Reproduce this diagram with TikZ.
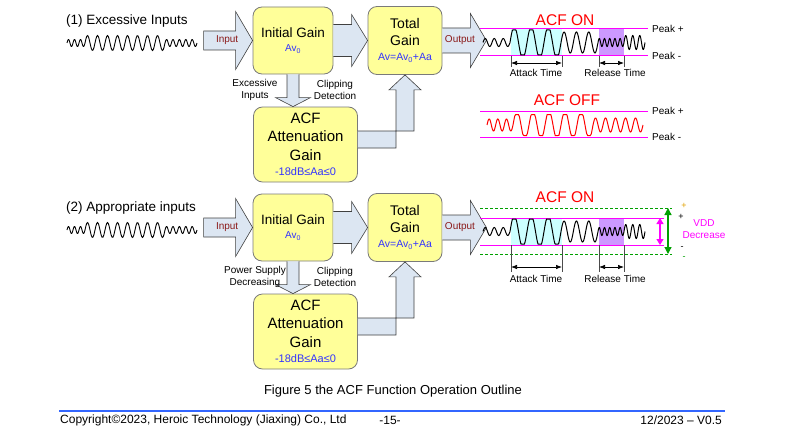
\documentclass[tikz,border=0pt]{standalone}
\usepackage{fontspec}
\setmainfont{Liberation Sans}
\usetikzlibrary{arrows.meta,positioning,calc}
\definecolor{gainfill}{HTML}{FFFF99}
\definecolor{boxline}{HTML}{7A7A7A}
\definecolor{pipefill}{HTML}{DCE6F2}
\definecolor{pipeline}{HTML}{404040}
\definecolor{acfblue}{HTML}{3333FF}
\definecolor{acfred}{HTML}{FF0000}
\definecolor{portred}{HTML}{8B1A1A}
\definecolor{peakpink}{HTML}{FF00FF}
\definecolor{attcyan}{HTML}{CCFFFF}
\definecolor{relpurple}{HTML}{CC99FF}
\definecolor{vddgreen}{HTML}{00A000}
\definecolor{vddorange}{HTML}{E0A000}
\definecolor{footblue}{HTML}{3366FF}
\tikzset{
  gainbox/.style={draw=boxline, fill=gainfill, line width=0.8pt, rounded corners=9pt, align=center},
  pipe/.style={draw=pipeline, fill=pipefill, line width=0.6pt, line join=miter},
  portlabel/.style={font=\fontsize{10}{12}\selectfont, text=portred},
  sidenote/.style={font=\fontsize{10}{12}\selectfont, align=center},
  peakline/.style={draw=peakpink, line width=1pt},
  dimline/.style={draw=black!70, line width=0.7pt},
  timespan/.style={{Latex[length=6pt,width=4.5pt]}-{Latex[length=6pt,width=4.5pt]}, line width=0.7pt},
}
% block arrow: [close] tail, tip, shaft half width, head half width, head length
\newcommand{\blockarrow}[6][]{\draw[pipe] ($(#2)+(0,#4)$) -- ($(#3)+(-#6,#4)$) -- ($(#3)+(-#6,#5)$) -- (#3)
  -- ($(#3)+(-#6,-#5)$) -- ($(#3)+(-#6,-#4)$) -- ($(#2)+(0,-#4)$) #1;}
% wave: centre line, segments start/end/amplitude/period/clip, style
\newcommand{\sigwave}[3]{\foreach \sa/\sb/\am/\pe/\cl in {#2}{%
  \draw[#3] plot[domain=\sa:\sb, samples=90, smooth] (\x,{#1-max(-\cl,min(\cl,\am*sin(360/\pe*(\x-\sa))))});}}
\begin{document}
\begin{tikzpicture}[x=1pt, y=-1pt, every node/.append style={inner sep=0pt}]
  \useasboundingbox (0,0) rectangle (786,428);

  % Two gain chains
  \foreach \p/\dy/\lbl/\why in {1/0/{(1) Excessive Inputs}/{Excessive\\Inputs}, 2/187/{(2) Appropriate inputs}/{Power Supply\\Decreasing}} {
    \begin{scope}[shift={(0,\dy)}]
      \node[anchor=west, font=\fontsize{13.5}{16}\selectfont] (title\p) at (66,21) {\lbl};
      \sigwave{43}{67/85/3.5/6/9, 85/165/7.5/10/9, 165/197/3.5/6.4/9}{black, line width=0.9pt}
      \node[gainbox, minimum width=80pt, minimum height=67pt, font=\fontsize{13.5}{15}\selectfont] (ig\p) at (293,40.5)
        {Initial Gain\\[-1pt]{\fontsize{10}{12}\selectfont\textcolor{acfblue}{Av\textsubscript{0}}}};
      \node[gainbox, minimum width=74pt, minimum height=68pt, font=\fontsize{14}{17}\selectfont] (tg\p) at (405,40.5)
        {Total\\Gain\\[-2pt]{\fontsize{10.5}{12}\selectfont\textcolor{acfblue}{Av=Av\textsubscript{0}+Aa}}};
      \node[gainbox, minimum width=104pt, minimum height=75pt, font=\fontsize{15}{18.5}\selectfont] (acf\p) at (305.5,144.5)
        {ACF\\Attenuation\\Gain\\[-3pt]{\fontsize{11}{13}\selectfont\textcolor{acfblue}{-18dB≤Aa≤0}}};
      \coordinate[left=49pt of ig\p.west] (in\p);
      \coordinate[right=44pt of tg\p.east] (out\p);
      \blockarrow[-- cycle]{in\p}{ig\p.west}{9.5}{29}{17}
      \blockarrow{ig\p.east}{tg\p.west}{16}{26}{16}
      \blockarrow{tg\p.east}{out\p}{12.5}{27}{16}
      \node[portlabel] (inl\p) at ($(in\p)!0.48!(ig\p.west)$) {Input};
      \node[portlabel] (outl\p) at ($(tg\p.east)!0.4!(out\p)$) {Output};
      % down into the attenuation block
      \coordinate (dn\p) at (ig\p.south |- acf\p.north);
      \draw[pipe] ($(ig\p.south)+(-6,0)$) -- ($(dn\p)+(-6,-9)$) -- ($(dn\p)+(-17.5,-9)$) -- (dn\p)
        -- ($(dn\p)+(17.5,-9)$) -- ($(dn\p)+(6,-9)$) -- ($(ig\p.south)+(6,0)$);
      % back up into the total gain
      \coordinate (el\p) at ($(acf\p.east)+(0,-5)$);
      \coordinate (ec\p) at (tg\p.south |- el\p);
      \draw[pipe] ($(el\p)+(0,-8.5)$) -- ($(ec\p)+(9,-8.5)$) -- ($(tg\p.south)+(9,15)$) -- ($(tg\p.south)+(16,15)$)
        -- (tg\p.south) -- ($(tg\p.south)+(-16,15)$) -- ($(tg\p.south)+(-9,15)$) -- ($(ec\p)+(-9,8.5)$) -- ($(el\p)+(0,8.5)$);
      \node[sidenote] (why\p) at (255,90) {\why};
      \node[sidenote] (clip\p) at (335,90) {Clipping\\Detection};
    \end{scope}
  }

  % ACF ON, excessive inputs
  \node[font=\fontsize{15.5}{18}\selectfont, text=acfred] (on1) at (565,20) {ACF ON};
  \fill[attcyan] (511,29) rectangle (562,56);
  \fill[relpurple] (599,29) rectangle (624,56);
  \draw[peakline] (480,29) -- (648,29);
  \draw[peakline] (480,56) -- (648,56);
  \sigwave{42.5}{483/510/4/9/4, 510/561/16/17/12.5, 561/598/10.5/12.333/11, 598/624/4/5.2/4, 624/645/7/7/7}{black, line width=1pt}
  \node[sidenote, anchor=west] (pkp1) at (652,29) {Peak +};
  \node[sidenote, anchor=west] (pkm1) at (652,56) {Peak -};
  \foreach \t in {511,562,599,624} \draw[dimline] (\t,56) -- (\t,67);
  \draw[timespan] (511,63) -- (562,63);
  \draw[timespan] (599,63) -- (624,63);
  \node[sidenote] (att1) at (536,73) {Attack Time};
  \node[sidenote] (rel1) at (615,73) {Release Time};

  % ACF OFF
  \node[font=\fontsize{15.5}{18}\selectfont, text=acfred] (off1) at (567,100) {ACF OFF};
  \draw[peakline] (480,111) -- (648,111);
  \draw[peakline] (480,137) -- (648,137);
  \sigwave{125}{487/513/6/8.667/6, 513/593/14/16/10.5, 593/643/7/10/7}{acfred, line width=1pt}
  \node[sidenote, anchor=west] (pkp2) at (652,111) {Peak +};
  \node[sidenote, anchor=west] (pkm2) at (652,137) {Peak -};

  % ACF ON, supply decreasing
  \node[font=\fontsize{15.5}{18}\selectfont, text=acfred] (on2) at (565,197) {ACF ON};
  \fill[attcyan] (511,218) rectangle (562,245);
  \fill[relpurple] (599,218) rectangle (624,245);
  \draw[vddgreen, line width=0.8pt, dash pattern=on 3pt off 2pt] (480,208) -- (672,208);
  \draw[vddgreen, line width=0.8pt, dash pattern=on 3pt off 2pt] (480,254) -- (672,254);
  \draw[peakline] (480,218) -- (664,218);
  \draw[peakline] (480,245) -- (664,245);
  \sigwave{231.5}{483/510/4/9/4, 510/561/16/17/12.5, 561/598/10.5/12.333/11, 598/624/4/5.2/4, 624/645/7/7/7}{black, line width=1pt}
  \draw[vddgreen, line width=1.2pt, {Triangle[length=7pt,width=7pt]}-{Triangle[length=7pt,width=7pt]}] (668,208) -- (668,254);
  \draw[peakpink, line width=1.2pt, {Triangle[length=6pt,width=7pt]}-{Triangle[length=6pt,width=7pt]}] (660,218) -- (660,245);
  \node[font=\fontsize{9}{10}\selectfont, text=vddorange] (vp1) at (684,206) {+};
  \node[font=\fontsize{9}{10}\selectfont] (vp2) at (681,217) {+};
  \node[font=\fontsize{9}{10}\selectfont] (vm2) at (682,248) {-};
  \node[font=\fontsize{9}{10}\selectfont, text=vddgreen] (vm1) at (684,258) {-};
  \node[sidenote, text=peakpink] (vdd) at (704,229) {VDD\\Decrease};
  \foreach \t in {511,562,599,624} \draw[dimline] (\t,245) -- (\t,272);
  \draw[timespan] (511,267) -- (562,267);
  \draw[timespan] (599,267) -- (624,267);
  \node[sidenote] (att2) at (536,279) {Attack Time};
  \node[sidenote] (rel2) at (615,279) {Release Time};

  % Caption and footer
  \node[font=\fontsize{13}{15}\selectfont] (cap) at (393,391) {Figure 5 the ACF Function Operation Outline};
  \draw[footblue, line width=2pt] (59,411) -- (725,411);
  \node[font=\fontsize{12}{14}\selectfont, anchor=west] (copy) at (60,420) {Copyright©2023, Heroic Technology (Jiaxing) Co., Ltd};
  \node[font=\fontsize{12}{14}\selectfont] (page) at (390,420) {-15-};
  \node[font=\fontsize{12}{14}\selectfont, anchor=east] (ver) at (722,420) {12/2023 – V0.5};
\end{tikzpicture}
\end{document}
